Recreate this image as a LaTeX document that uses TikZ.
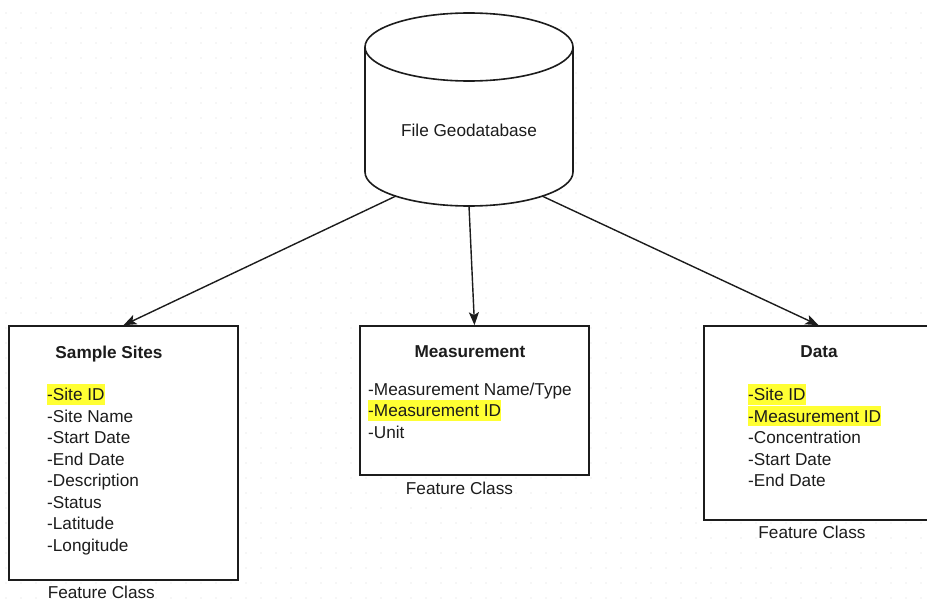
\documentclass[tikz,border=0pt]{standalone}
\usepackage{fontspec}
\setmainfont{Liberation Sans}
\usepackage{xcolor}
\usetikzlibrary{arrows.meta}

\definecolor{hlyellow}{RGB}{255,255,51}
\definecolor{inkgray}{RGB}{28,28,28}
% yellow marker behind key fields
\newcommand{\hlt}[1]{{\setlength{\fboxsep}{0pt}\colorbox{hlyellow}{\rule[-4pt]{0pt}{20.5pt}#1}}}

\begin{document}
\begin{tikzpicture}[x=1pt, y=-1pt,
  every node/.style={font=\fontsize{17.2}{21.5}\selectfont, text=inkgray, inner sep=0pt},
  classbox/.style={draw=inkgray, line width=1.6pt, fill=white, minimum width=229pt},
  boxtitle/.style={anchor=base, font=\fontsize{17.2}{21.5}\selectfont\bfseries},
  fieldlist/.style={anchor=base west, align=left},
  caption/.style={anchor=base},
  link/.style={draw=inkgray, line width=1.4pt, -{Stealth[length=13pt, width=10pt, inset=3pt]}}]
  % Canvas and dot grid
  \clip (0,0) rectangle (927,602);
  \fill[white] (0,0) rectangle (927,602);
  \foreach \x in {6,21,...,921}
    \foreach \y in {13,28,...,598}
      \fill[gray!30] (\x,\y) circle[radius=0.7];
  % Geodatabase cylinder
  \draw[line width=1.6pt, draw=inkgray, fill=white] (365,47) -- (365,172)
    arc[start angle=180, end angle=0, x radius=104, y radius=34] -- (573,47);
  \draw[line width=1.6pt, draw=inkgray, fill=white] (469,47) ellipse[x radius=104, y radius=34];
  \node (gdb) at (469,130) {File Geodatabase};
  \coordinate (gdbL) at (396,196);
  \coordinate (gdbM) at (469,206);
  \coordinate (gdbR) at (542,196);
  % Feature classes
  \node[classbox, minimum height=254pt] (sites) at (123.5,453) {};
  \node[classbox, minimum height=149pt] (meas) at (474.5,400.5) {};
  \node[classbox, minimum height=194pt] (data) at (818.5,423) {};
  % Links
  \draw[link] (gdbL) -- (sites.north);
  \draw[link] (gdbM) -- (meas.north);
  \draw[link] (gdbR) -- (data.north);
  % Titles
  \node[boxtitle] (sitesTitle) at (109,358) {Sample Sites};
  \node[boxtitle] (measTitle) at (470,357.5) {Measurement};
  \node[boxtitle] (dataTitle) at (819,357.5) {Data};
  % Fields (placed by the baseline of their last line)
  \node[fieldlist] (sitesFields) at (47,551)
    {\hlt{-Site ID}\\-Site Name\\-Start Date\\-End Date\\-Description\\-Status\\-Latitude\\-Longitude};
  \node[fieldlist] (measFields) at (368,438)
    {-Measurement Name/Type\\\hlt{-Measurement ID}\\-Unit};
  \node[fieldlist] (dataFields) at (748,486.5)
    {\hlt{-Site ID}\\\hlt{-Measurement ID}\\-Concentration\\-Start Date\\-End Date};
  % Captions
  \node[caption] (sitesCap) at (101.3,598.3) {Feature Class};
  \node[caption] (measCap) at (459.5,494.3) {Feature Class};
  \node[caption] (dataCap) at (812,538.7) {Feature Class};
\end{tikzpicture}
\end{document}
